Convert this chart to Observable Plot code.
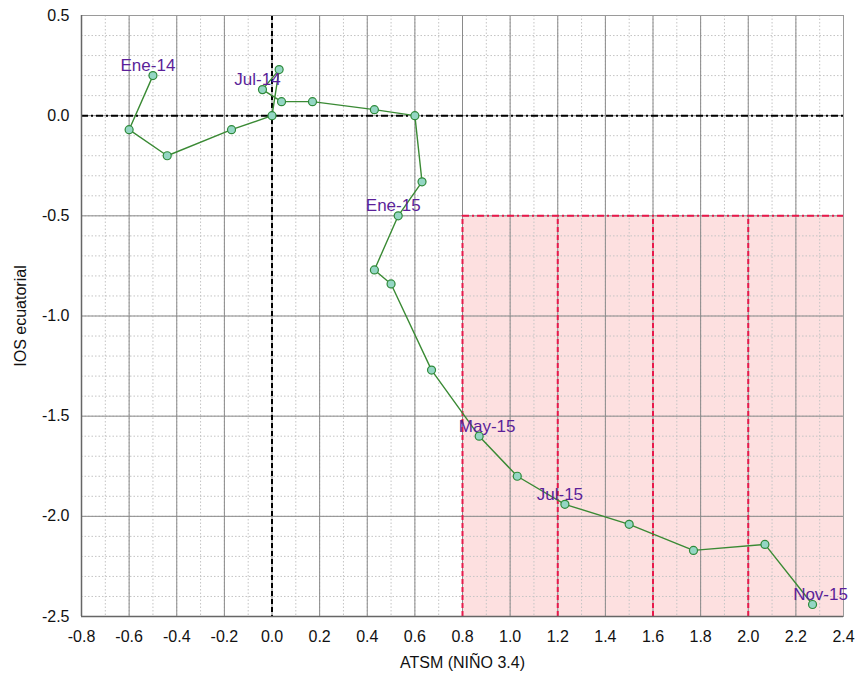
<!DOCTYPE html>
<html>
<head>
<meta charset="utf-8">
<script src="https://cdn.jsdelivr.net/npm/d3@7"></script>
<script src="https://cdn.jsdelivr.net/npm/@observablehq/plot@0.6"></script>
<style>
  html, body { margin: 0; padding: 0; background: #fff; }
  #chart { width: 857px; height: 675px; }
  svg { font-family: "Liberation Sans", Arial, sans-serif; }
</style>
</head>
<body>
<div id="chart"></div>
<script>
// Data
const months = ["Ene-14","Feb-14","Mar-14","Abr-14","May-14","Jun-14","Jul-14","Ago-14","Sep-14","Oct-14","Nov-14","Dic-14",
                "Ene-15","Feb-15","Mar-15","Abr-15","May-15","Jun-15","Jul-15","Ago-15","Sep-15","Oct-15","Nov-15"];
const atsm = [-0.50,-0.60,-0.44,-0.17,0.00,0.03,-0.04,0.04,0.17,0.43,0.60,0.63,
              0.53,0.43,0.50,0.67,0.87,1.03,1.23,1.50,1.77,2.07,2.27];
const ios  = [0.20,-0.07,-0.20,-0.07,0.00,0.23,0.13,0.07,0.07,0.03,0.00,-0.33,
              -0.50,-0.77,-0.84,-1.27,-1.60,-1.80,-1.94,-2.04,-2.17,-2.14,-2.44];
const labeledMonths = ["Ene-14","Jul-14","Ene-15","May-15","Jul-15","Nov-15"];
const xTicks = [-0.8,-0.6,-0.4,-0.2,0.0,0.2,0.4,0.6,0.8,1.0,1.2,1.4,1.6,1.8,2.0,2.2,2.4];
const yTicks = [-2.5,-2.0,-1.5,-1.0,-0.5,0.0,0.5];
const xMinor = d3.range(-8, 25).map(i => i / 10);
const yMinor = d3.range(-25, 6).map(i => i / 10);
const zoneX = [0.8, 2.4];
const zoneY = [-2.5, -0.5];
const zoneDividers = [0.8, 1.2, 1.6, 2.0];

const data = months.map((m, i) => ({month: m, x: atsm[i], y: ios[i]}));
const labels = data.filter(d => labeledMonths.includes(d.month));
const labelsRight = ["May-15", "Nov-15"];

const red = "#e8194b";
const labelStyle = {x: "x", y: "y", text: "month", dy: -10, fill: "#5b1f99", fontSize: 17, textAnchor: "middle"};
const chart = Plot.plot({
  width: 857,
  height: 675,
  marginLeft: 81,
  marginRight: 14,
  marginTop: 15,
  marginBottom: 59,
  style: {fontFamily: "'Liberation Sans', Arial, sans-serif", fontSize: "16px", background: "#fff"},
  x: {domain: [-0.8, 2.4]},
  y: {domain: [-2.5, 0.5]},
  marks: [
    Plot.rect([{}], {x1: zoneX[0], x2: zoneX[1], y1: zoneY[0], y2: zoneY[1], fill: "#fde0e0"}),
    Plot.ruleX(xMinor, {stroke: "#c4c4c4", strokeWidth: 1, strokeDasharray: "1.5,2"}),
    Plot.ruleY(yMinor, {stroke: "#c4c4c4", strokeWidth: 1, strokeDasharray: "1.5,2"}),
    Plot.ruleX(xTicks, {stroke: "#8a8a8a", strokeWidth: 1}),
    Plot.ruleY(yTicks, {stroke: "#8a8a8a", strokeWidth: 1}),
    Plot.ruleX(zoneDividers, {y1: zoneY[0], y2: zoneY[1], stroke: red, strokeWidth: 2, strokeDasharray: "5,3"}),
    Plot.ruleY([zoneY[1]], {x1: zoneX[0], x2: zoneX[1], stroke: red, strokeWidth: 2, strokeDasharray: "7,3,2,3"}),
    Plot.ruleY([0], {stroke: "#000", strokeWidth: 2, strokeDasharray: "7,3,2,3"}),
    Plot.ruleX([0], {stroke: "#000", strokeWidth: 2, strokeDasharray: "5,3"}),
    Plot.frame({stroke: "#9a9a9a"}),
    Plot.axisX({ticks: xTicks, tickSize: 0, tickPadding: 14, tickFormat: d => d.toFixed(1), fill: "#111",
                label: "ATSM (NIÑO 3.4)", labelAnchor: "center", labelArrow: "none", labelOffset: 51}),
    Plot.axisY({ticks: yTicks, tickSize: 0, tickPadding: 12, tickFormat: d => d.toFixed(1), fill: "#111",
                label: "IOS ecuatorial", labelAnchor: "center", labelArrow: "none", labelOffset: 67}),
    Plot.ruleX([-0.8], {stroke: "#666", strokeWidth: 1.5}),
    Plot.ruleY([-2.5], {stroke: "#666", strokeWidth: 1.5}),
    Plot.line(data, {x: "x", y: "y", stroke: "#3a8a34", strokeWidth: 1.4}),
    Plot.dot(data, {x: "x", y: "y", r: 4, fill: "#94d6c4", stroke: "#2e8a3a", strokeWidth: 1.2}),
    Plot.text(labels.filter(d => !labelsRight.includes(d.month)), {...labelStyle, dx: -5}),
    Plot.text(labels.filter(d => labelsRight.includes(d.month)), {...labelStyle, dx: 8})
  ]
});
document.getElementById("chart").appendChild(chart);
</script>
</body>
</html>
